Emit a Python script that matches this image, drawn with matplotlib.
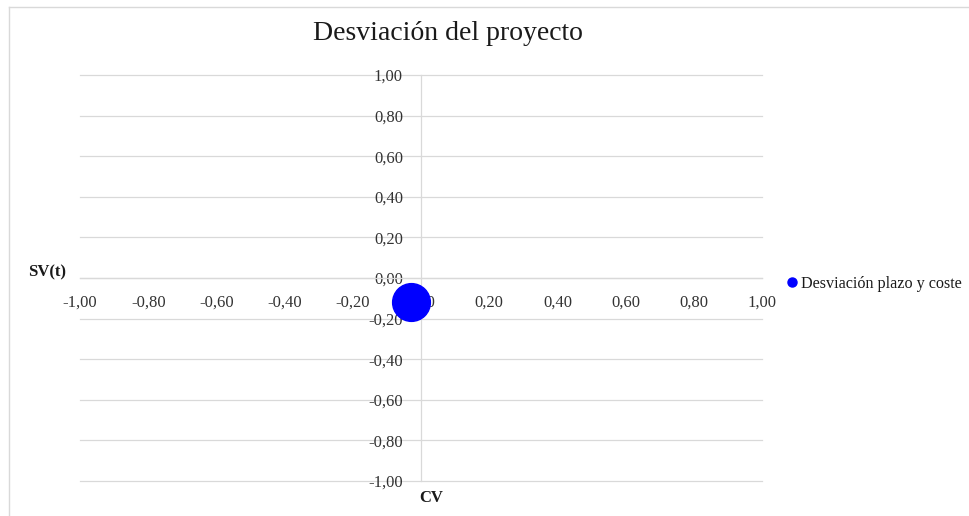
import matplotlib.pyplot as plt
from matplotlib.lines import Line2D
from matplotlib.ticker import FuncFormatter, MultipleLocator

# project deviation: cost variance (CV) vs schedule variance (SV(t))
cv = [-0.03]
svt = [-0.12]
series_name = 'Desviación plazo y coste'

W, H = 969, 516
plt.rcParams['font.family'] = ['Liberation Serif', 'DejaVu Serif']

fig = plt.figure(figsize=(W / 100, H / 100), dpi=100)
ax = fig.add_axes([80 / W, 1 - 481 / H, 682 / W, 406 / H])

ax.scatter(cv, svt, s=740, color='#0000ff', zorder=3, clip_on=False)

ax.set_xlim(-1, 1)
ax.set_ylim(-1, 1)
ax.xaxis.set_major_locator(MultipleLocator(0.2))
ax.yaxis.set_major_locator(MultipleLocator(0.2))
comma = FuncFormatter(lambda v, pos: f'{v:.2f}'.replace('.', ',').replace('-0,00', '0,00'))
ax.xaxis.set_major_formatter(comma)
ax.yaxis.set_major_formatter(comma)

for side in ['top', 'right']:
    ax.spines[side].set_visible(False)
for side in ['left', 'bottom']:
    ax.spines[side].set_position('zero')
    ax.spines[side].set_color('#d9d9d9')
    ax.spines[side].set_linewidth(0.9)

ax.yaxis.grid(True, color='#d9d9d9', linewidth=0.9)
for gl in ax.yaxis.get_gridlines():
    gl.set_clip_on(False)
ax.set_axisbelow(True)
ax.tick_params(length=0, labelsize=12, labelcolor='#333333')
ax.tick_params(axis='x', pad=12)
ax.tick_params(axis='y', pad=13)

fig.text(448 / W, 1 - 33 / H, 'Desviación del proyecto', fontsize=20,
         ha='center', va='center', color='#1a1a1a')
fig.text(47 / W, 1 - 272 / H, 'SV(t)', fontsize=12, fontweight='bold',
         ha='center', va='center', color='#1a1a1a')
fig.text(431 / W, 1 - 498 / H, 'CV', fontsize=12, fontweight='bold',
         ha='center', va='center', color='#1a1a1a')

handle = Line2D([], [], marker='o', linestyle='', color='#0000ff', markersize=6.5)
ax.legend([handle], [series_name], loc='center left',
          bbox_to_anchor=(781 / W, 1 - 284 / H), bbox_transform=fig.transFigure,
          frameon=False, fontsize=11.6, handlelength=0.6, handletextpad=0.25,
          borderaxespad=0, labelcolor='#1a1a1a')

# chart frame (top and left edges are visible)
fig.add_artist(Line2D([9 / W, 9 / W], [0, 1 - 7 / H], transform=fig.transFigure,
                      color='#d9d9d9', linewidth=1))
fig.add_artist(Line2D([9 / W, 1], [1 - 7 / H, 1 - 7 / H], transform=fig.transFigure,
                      color='#d9d9d9', linewidth=1))

fig.savefig('out.png', dpi=100)
